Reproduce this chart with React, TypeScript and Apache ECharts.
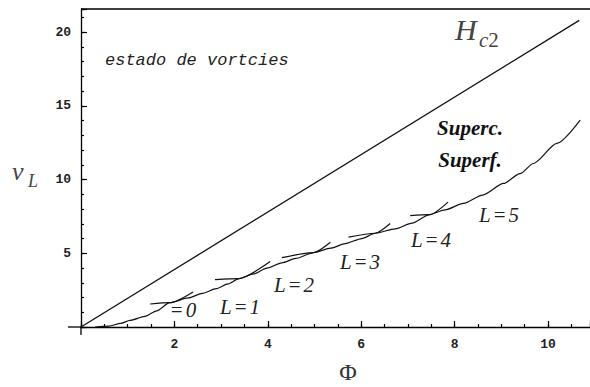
import React, { useEffect, useRef } from "react";
import * as echarts from "echarts";

// Axis ticks (flux Φ on x, v_L on y)
const fluxLabels = [2, 4, 6, 8, 10];
const fluxMinorStep = 0.5;
const fluxMajorStep = 2;
const vLabels = [5, 10, 15, 20];
const vMinorStep = 1;
const vMajorStep = 5;

const fluxMax = 10.9;
const vMax = 21.57;

// Upper critical field line H_c2
const hc2Line = [[0, 0], [10.67, 20.8]];

// Nucleation branches for each angular momentum L
const branchL0 = [[0.3, 0], [0.6, 0.06], [0.85, 0.25], [1.05, 0.45], [1.37, 0.72], [1.62, 1.1], [1.9, 1.65], [2.4, 2.38]];
const branchL1 = [[1.48, 1.56], [1.9, 1.65], [2.3, 1.97], [2.6, 2.28], [2.9, 2.6], [3.15, 2.92], [3.38, 3.28], [4.05, 4.44]];
const branchL2 = [[2.87, 3.22], [3.38, 3.28], [3.7, 3.6], [3.98, 4.0], [4.3, 4.35], [4.6, 4.65], [4.98, 5.05], [5.34, 5.75]];
const branchL3 = [[4.3, 4.7], [4.98, 5.05], [5.35, 5.35], [5.66, 5.66], [6.01, 6.0], [6.3, 6.36], [6.62, 7.02]];
const branchL4 = [[5.73, 6.1], [6.3, 6.36], [6.73, 6.66], [7.09, 7.04], [7.45, 7.6], [7.86, 8.47]];
const branchL5 = [[7.05, 7.55], [7.45, 7.62], [7.8, 7.95], [8.19, 8.38], [8.6, 8.95], [9.05, 9.74], [9.4, 10.4], [9.69, 11.09], [10.19, 12.45], [10.69, 14.03]];

const branches = [branchL0, branchL1, branchL2, branchL3, branchL4, branchL5];

const tickFont = { fontFamily: "Liberation Mono", fontSize: 13, fontWeight: "bold", color: "#222" };
const serif = '"Liberation Serif", "Times New Roman", serif';
const tickLine = { color: "#000", width: 1.2 };

// plot area placement
const GRID = { left: 81, right: 0, top: 9, bottom: 60 };
const CHART_H = 387;

function lSerLabel(x: number, y: number, n: string, withL = true) {
  return {
    type: "text",
    x,
    y,
    style: {
      text: withL ? `{a|L}{e|=}{a|${n}}` : `{e|=}{a|${n}}`,
      align: "center",
      verticalAlign: "middle",
      fill: "#222",
      rich: {
        a: { fontFamily: serif, fontStyle: "italic", fontSize: 21, fill: "#222" },
        e: { fontFamily: serif, fontSize: 21, padding: [0, 3], fill: "#222" },
      },
    },
  };
}

export default function App() {
  const ref = useRef<HTMLDivElement>(null);

  useEffect(() => {
    const chart = echarts.init(ref.current!, null, { renderer: "svg" });

    const lineSeries = (data: number[][], extra: any = {}) => ({
      type: "line",
      data,
      xAxisIndex: 0,
      yAxisIndex: 0,
      showSymbol: false,
      smooth: 0.25,
      smoothMonotone: "x",
      clip: false,
      lineStyle: { color: "#111", width: 1.2 },
      silent: true,
      ...extra,
    });

    const originY = CHART_H - GRID.bottom;

    chart.setOption({
      animation: false,
      backgroundColor: "#fff",
      grid: { ...GRID, containLabel: false },
      xAxis: [
        {
          type: "value",
          min: 0,
          max: fluxMax,
          interval: fluxMinorStep,
          axisLine: { onZero: false, lineStyle: { color: "#000", width: 1.3 } },
          axisTick: { show: true, inside: true, length: 3, lineStyle: tickLine },
          axisLabel: { customValues: fluxLabels, margin: 11, ...tickFont },
          splitLine: { show: false },
        },
        {
          type: "value",
          position: "bottom",
          min: 0,
          max: fluxMax,
          interval: fluxMajorStep,
          axisLine: { show: false, onZero: false },
          axisTick: { show: true, inside: true, length: 6, lineStyle: tickLine },
          axisLabel: { show: false },
          splitLine: { show: false },
        },
      ],
      yAxis: [
        {
          type: "value",
          min: 0,
          max: vMax,
          interval: vMinorStep,
          axisLine: { onZero: false, lineStyle: { color: "#000", width: 1.3 } },
          axisTick: { show: true, inside: true, length: 3, lineStyle: tickLine },
          axisLabel: { customValues: vLabels, margin: 10, ...tickFont },
          splitLine: { show: false },
        },
        {
          type: "value",
          position: "left",
          min: 0,
          max: vMax,
          interval: vMajorStep,
          axisLine: { show: false, onZero: false },
          axisTick: { show: true, inside: true, length: 6, lineStyle: tickLine },
          axisLabel: { show: false },
          splitLine: { show: false },
        },
      ],
      series: [
        lineSeries(hc2Line, {
          smooth: false,
          lineStyle: { color: "#111", width: 1.3 },
          markLine: {
            silent: true,
            symbol: "none",
            label: { show: false },
            lineStyle: { color: "#000", width: 1.6, type: "solid" },
            data: [[{ coord: [0, vMax] }, { coord: [fluxMax, vMax] }]],
          },
        }),
        ...branches.map((b) => lineSeries(b)),
      ],
      graphic: [
        // axis lines continue a little past the origin
        {
          type: "line",
          shape: { x1: GRID.left - 13, y1: originY, x2: GRID.left, y2: originY },
          style: { stroke: "#000", lineWidth: 1.3 },
        },
        {
          type: "line",
          shape: { x1: GRID.left, y1: originY, x2: GRID.left, y2: originY + 8 },
          style: { stroke: "#000", lineWidth: 1.3 },
        },
        {
          type: "text",
          x: 105,
          y: 60,
          style: {
            text: "estado de vortcies",
            font: 'italic 17px "Liberation Mono"',
            fill: "#222",
            verticalAlign: "middle",
          },
        },
        {
          type: "text",
          x: 455,
          y: 44,
          style: { text: "H", font: `italic 30px ${serif}`, fill: "#444", verticalAlign: "bottom" },
        },
        {
          type: "text",
          x: 479,
          y: 50,
          style: {
            text: "{c|c}{n|2}",
            verticalAlign: "bottom",
            rich: {
              c: { fontFamily: serif, fontStyle: "italic", fontSize: 21, fill: "#444" },
              n: { fontFamily: serif, fontSize: 21, fill: "#444" },
            },
          },
        },
        {
          type: "text",
          x: 470,
          y: 128,
          style: { text: "Superc.", font: `italic bold 21px ${serif}`, fill: "#111", align: "center", verticalAlign: "middle" },
        },
        {
          type: "text",
          x: 470,
          y: 160,
          style: { text: "Superf.", font: `italic bold 21px ${serif}`, fill: "#111", align: "center", verticalAlign: "middle" },
        },
        lSerLabel(182, 310, "0", false),
        lSerLabel(240, 307, "1"),
        lSerLabel(294, 285, "2"),
        lSerLabel(360, 262, "3"),
        lSerLabel(431, 240, "4"),
        lSerLabel(499, 215, "5"),
        {
          type: "text",
          x: 12,
          y: 184,
          style: { text: "v", font: `italic 26px ${serif}`, fill: "#444", verticalAlign: "bottom" },
        },
        {
          type: "text",
          x: 28,
          y: 190,
          style: { text: "L", font: `italic 18px ${serif}`, fill: "#444", verticalAlign: "bottom" },
        },
        {
          type: "text",
          x: 348,
          y: 372,
          style: { text: "Φ", font: `24px ${serif}`, fill: "#333", align: "center", verticalAlign: "middle" },
        },
      ],
    });

    return () => chart.dispose();
  }, []);

  return (
    <div
      ref={ref}
      style={{ position: "fixed", left: 0, top: 0, width: 590, height: 387, background: "#fff" }}
    />
  );
}
